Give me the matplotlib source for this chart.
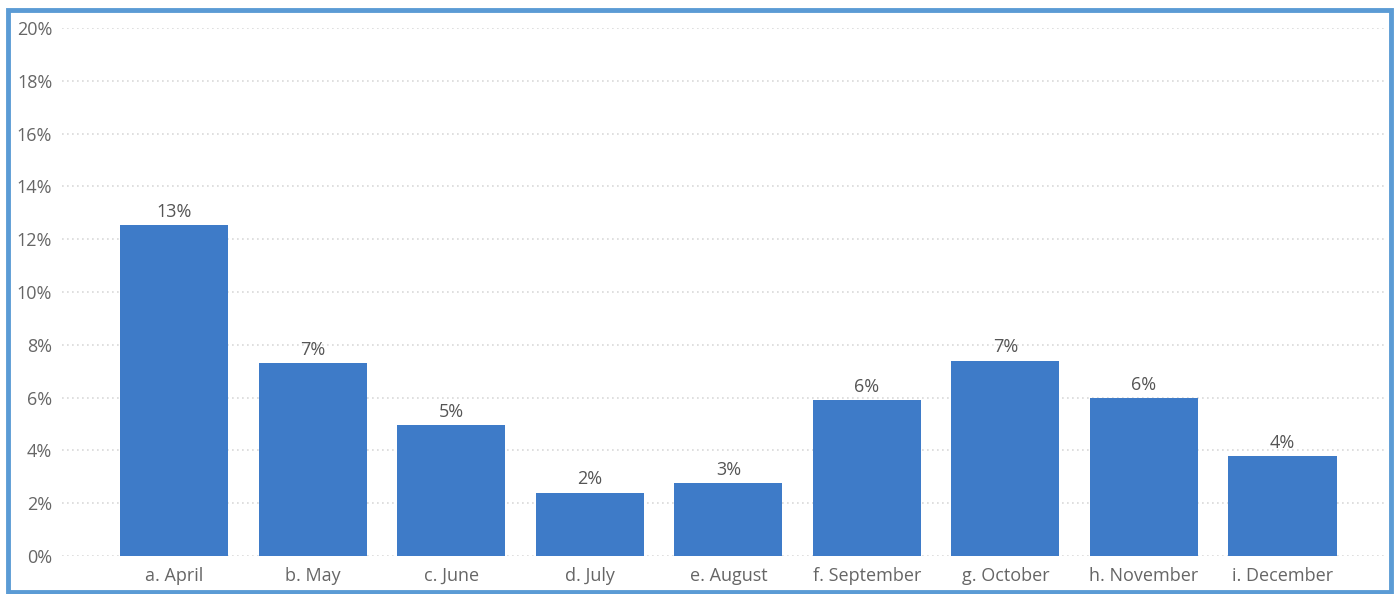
import matplotlib
matplotlib.use("Agg")
import matplotlib.pyplot as plt
from matplotlib.patches import Rectangle
from matplotlib.ticker import FuncFormatter, MultipleLocator

months = ["a. April", "b. May", "c. June", "d. July", "e. August",
          "f. September", "g. October", "h. November", "i. December"]
share_pct = [12.55, 7.3, 4.95, 2.4, 2.75, 5.9, 7.4, 5.98, 3.8]

plt.rcParams["font.family"] = ["Open Sans", "DejaVu Sans"]

W, H = 1397, 594
fig = plt.figure(figsize=(W / 100, H / 100), dpi=100)
fig.patch.set_facecolor("white")

ax = fig.add_axes([62 / W, (H - 556) / H, (1385 - 62) / W, 528 / H])
x = range(len(months))
ax.bar(x, share_pct, width=0.78, color="#3e7bc8", zorder=3)

for xi, v in zip(x, share_pct):
    ax.annotate(f"{v:.0f}%", (xi, v), xytext=(0, 3), textcoords="offset points",
                ha="center", va="bottom", fontsize=13, color="#555555")

ax.set_ylim(0, 20)
ax.set_xlim(-0.81, 8.74)
ax.yaxis.set_major_locator(MultipleLocator(2))
ax.yaxis.set_major_formatter(FuncFormatter(lambda v, _: f"{v:.0f}%"))
ax.set_xticks(list(x))
ax.set_xticklabels(months)

ax.grid(axis="y", linestyle=(0, (1, 2)), color="#d9d9d9", linewidth=1.2, zorder=0)
ax.grid(axis="x", visible=False)
for s in ax.spines.values():
    s.set_visible(False)
ax.tick_params(axis="both", length=0, labelsize=13, labelcolor="#666666")
ax.tick_params(axis="y", pad=7)
ax.tick_params(axis="x", pad=8)

# frame around the whole figure
fig.patches.append(Rectangle((8 / W, 2 / H), (1391 - 8) / W, (584 - 2) / H,
                             transform=fig.transFigure, fill=False,
                             edgecolor="#5b9bd5", linewidth=3.5, zorder=10))

fig.savefig("out.png", dpi=100, facecolor="white")
